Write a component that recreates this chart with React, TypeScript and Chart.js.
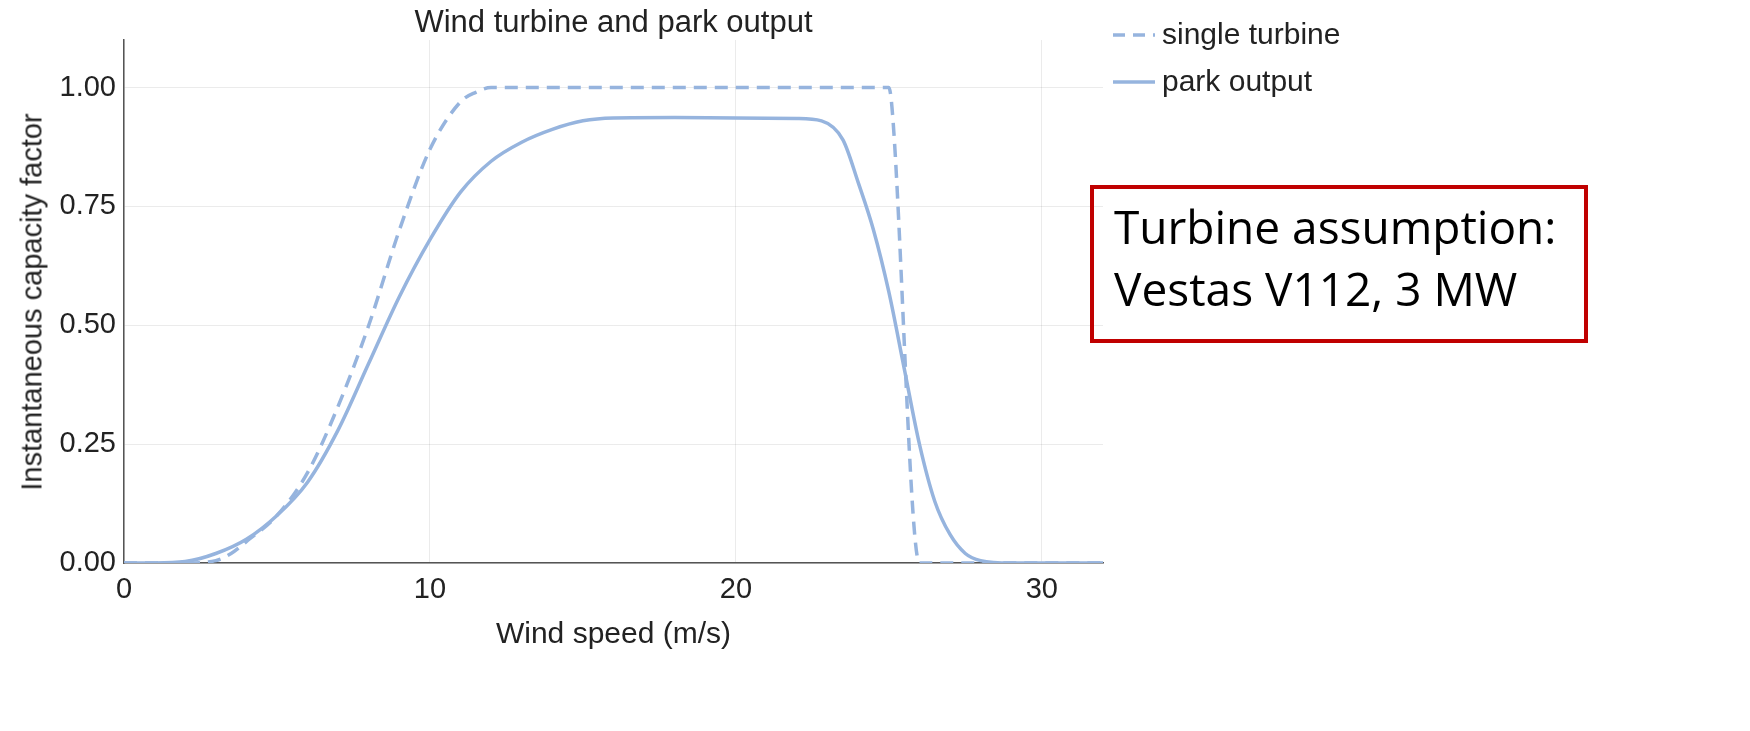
import React, { useEffect, useRef } from "react";
import { Chart } from "chart.js/auto";

const singleX = [0, 2, 3, 3.5, 4, 5, 6, 7, 8, 9, 10, 11, 11.5, 12, 15, 20, 25, 25.1, 26, 27, 32];
const singleY = [0, 0, 0.005, 0.02, 0.045, 0.1, 0.19, 0.33, 0.5, 0.7, 0.87, 0.97, 0.99, 1.0, 1.0, 1.0, 1.0, 0.96, 0, 0, 0];
const parkX = [0, 1, 2, 3, 4, 5, 6, 7, 8, 9, 10, 11, 12, 13, 14, 15, 16, 18, 20, 22, 22.8, 23.5, 24, 24.5, 25, 25.5, 26, 26.5, 27, 27.5, 28, 29, 32];
const parkY = [0, 0, 0.003, 0.02, 0.05, 0.1, 0.17, 0.28, 0.42, 0.56, 0.68, 0.78, 0.845, 0.885, 0.912, 0.93, 0.936, 0.937, 0.936, 0.935, 0.93, 0.89, 0.8, 0.7, 0.57, 0.41, 0.25, 0.13, 0.06, 0.02, 0.005, 0, 0];
const xTicks = [0, 10, 20, 30];

const lineColor = "rgb(150,180,222)";
const font = "'Liberation Sans', Arial, sans-serif";

export default function App() {
  const canvasRef = useRef<HTMLCanvasElement | null>(null);
  const chartRef = useRef<Chart | null>(null);

  useEffect(() => {
    document.body.style.margin = "0";
    if (!canvasRef.current) return;
    chartRef.current?.destroy();
    chartRef.current = new Chart(canvasRef.current, {
      type: "scatter",
      data: {
        datasets: [
          {
            label: "single turbine",
            data: singleX.map((x, i) => ({ x, y: singleY[i] })),
            showLine: true,
            borderColor: lineColor,
            borderWidth: 3.5,
            borderDash: [13, 8],
            pointRadius: 0,
            cubicInterpolationMode: "monotone",
          },
          {
            label: "park output",
            data: parkX.map((x, i) => ({ x, y: parkY[i] })),
            showLine: true,
            borderColor: lineColor,
            borderWidth: 3.5,
            pointRadius: 0,
            cubicInterpolationMode: "monotone",
          },
        ],
      },
      options: {
        animation: false,
        responsive: false,
        layout: { padding: { top: 40, right: 647, left: 0, bottom: 0 } },
        plugins: { legend: { display: false }, title: { display: false }, tooltip: { enabled: false } },
        scales: {
          x: {
            type: "linear",
            min: 0,
            max: 32,
            afterFit: (s: any) => { s.height = 168; },
            afterBuildTicks: (s: any) => { s.ticks = xTicks.map((v) => ({ value: v })); },
            grid: { color: "rgba(0,0,0,0.08)", tickLength: 8, tickColor: "rgba(0,0,0,0)" },
            border: { color: "#555", width: 1.5 },
            ticks: { color: "#222", font: { family: font, size: 29 }, padding: 2 },
          },
          y: {
            min: 0,
            max: 1.1,
            afterFit: (s: any) => { s.width = 124; },
            afterBuildTicks: (s: any) => { s.ticks = [0, 0.25, 0.5, 0.75, 1].map((v) => ({ value: v })); },
            grid: { color: "rgba(0,0,0,0.08)", tickLength: 6, tickColor: "rgba(0,0,0,0)" },
            border: { color: "#555", width: 1.5 },
            ticks: { color: "#222", font: { family: font, size: 29 }, padding: 2, callback: (v: any) => Number(v).toFixed(2) },
          },
        },
      },
    });
    return () => { chartRef.current?.destroy(); chartRef.current = null; };
  }, []);

  const txt: React.CSSProperties = { position: "absolute", fontFamily: font, color: "#222", whiteSpace: "nowrap" };
  return (
    <div style={{ position: "relative", width: 1750, height: 731 }}>
      <canvas ref={canvasRef} width={1750} height={731} style={{ width: 1750, height: 731 }} />
      <div style={{ ...txt, left: 124, width: 979, top: 4, textAlign: "center", fontSize: 31 }}>Wind turbine and park output</div>
      <div style={{ ...txt, left: 124, width: 979, top: 616, textAlign: "center", fontSize: 30 }}>Wind speed (m/s)</div>
      <div style={{ ...txt, left: 32, top: 302, fontSize: 29, transform: "translate(-50%,-50%) rotate(-90deg)" }}>Instantaneous capacity factor</div>
      <svg style={{ position: "absolute", left: 1105, top: 20 }} width={60} height={80}>
        <line x1={8} y1={15} x2={50} y2={15} stroke={lineColor} strokeWidth={3.5} strokeDasharray="12 8" />
        <line x1={8} y1={62} x2={50} y2={62} stroke={lineColor} strokeWidth={3.5} />
      </svg>
      <div style={{ ...txt, left: 1162, top: 17, fontSize: 30 }}>single turbine</div>
      <div style={{ ...txt, left: 1162, top: 64, fontSize: 30 }}>park output</div>
      <div style={{ position: "absolute", left: 1090, top: 185, width: 470, height: 144, border: "4px solid #c00000", boxSizing: "content-box", fontFamily: "'Open Sans', 'Noto Sans', sans-serif", fontSize: 46, lineHeight: "62px", color: "#000", padding: "6px 0 0 20px", whiteSpace: "nowrap" }}>
        Turbine assumption:<br />Vestas V112, 3 MW
      </div>
    </div>
  );
}
